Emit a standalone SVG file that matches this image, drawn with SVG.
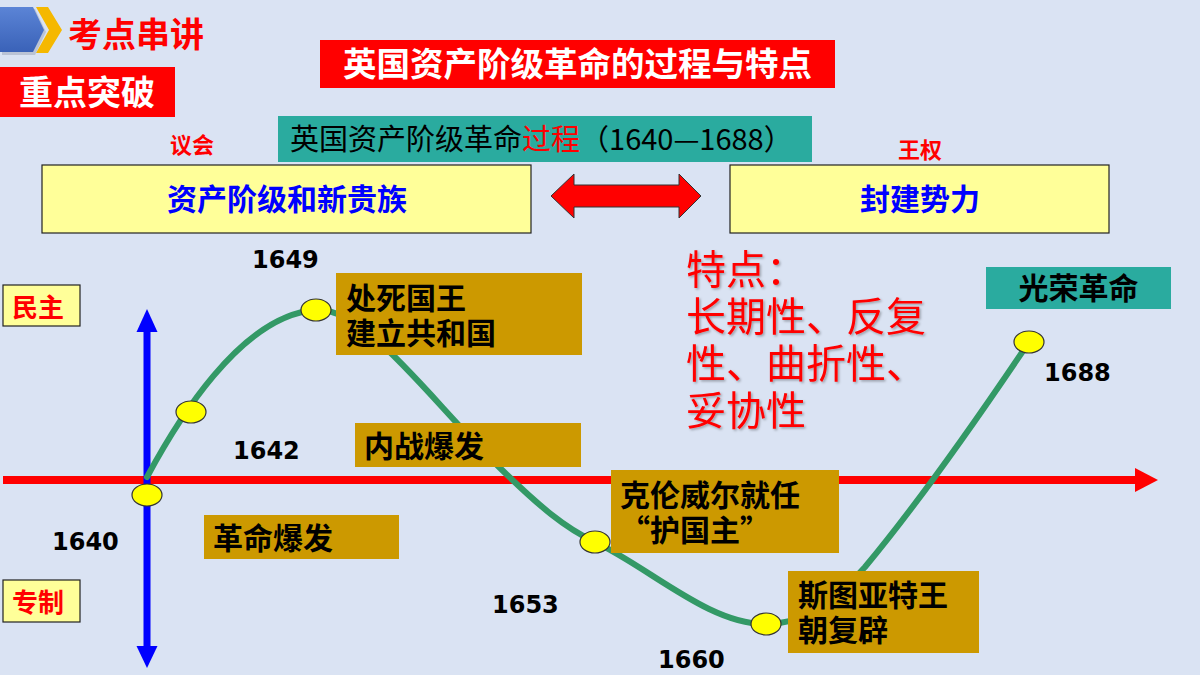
<svg xmlns="http://www.w3.org/2000/svg" width="1200" height="675" viewBox="0 0 1200 675">
<defs>
<style>
.cjk{font-family:"Noto Sans CJK SC","Noto Sans",sans-serif;}
.b{font-weight:700;}
.yr{font-family:"DejaVu Sans",sans-serif;font-weight:700;font-size:24px;fill:#000;}
.brown{fill:#cc9900;}
.lbl{font-family:"Noto Sans CJK SC",sans-serif;font-weight:700;font-size:30px;fill:#000;}
.ybox{fill:#ffff99;stroke:#222;stroke-width:1.2;}
.dot{fill:#ffff00;stroke:#333;stroke-width:1.2;}
.teal{fill:#2aab9f;}
</style>
<linearGradient id="bg1" x1="0" y1="0" x2="0" y2="1">
<stop offset="0" stop-color="#5b84d6"/><stop offset="1" stop-color="#3a62b8"/>
</linearGradient>
<filter id="sh" x="-5%" y="-5%" width="110%" height="120%">
<feDropShadow dx="1.5" dy="1.5" stdDeviation="0.8" flood-color="#000" flood-opacity="0.3"/>
</filter>
</defs>
<rect width="1200" height="675" fill="#dae3f3"/>

<g id="header-icon">
<polygon points="2,9 35,9 46,32 35,55 2,55" fill="#9aa4b8" opacity="0.5"/>
<polygon points="0,7 33,7 44,30 33,52 0,52" fill="url(#bg1)"/>
<polygon points="36,7 48,7 62,30 48,53 36,53 49,30" fill="#f5b800"/>
</g>
<g id="header-title">
<text x="68" y="47" class="cjk b" font-size="34" fill="#ff0000">考点串讲</text>
</g>
<g id="key-tag">
<rect x="0" y="67" width="175" height="50" fill="#ff0000"/>
<text x="19" y="105" class="cjk b" font-size="34" fill="#ffffff">重点突破</text>
</g>
<g id="main-title">
<rect x="320" y="40" width="515" height="48" fill="#ff0000"/>
<text x="577.5" y="76" class="cjk b" font-size="33.5" fill="#ffffff" text-anchor="middle">英国资产阶级革命的过程与特点</text>
</g>
<g id="process-title">
<rect x="278" y="116" width="534" height="46" class="teal"/>
<text x="290" y="150" class="cjk" font-size="29" fill="#000">英国资产阶级革命<tspan fill="#ff0000">过程</tspan>（1640—1688）</text>
</g>
<g id="label-parliament">
<text x="192" y="153" class="cjk b" font-size="22" fill="#ff0000" text-anchor="middle">议会</text>
</g>
<g id="label-crown">
<text x="920" y="158" class="cjk b" font-size="22" fill="#ff0000" text-anchor="middle">王权</text>
</g>
<g id="bourgeoisie">
<rect x="42" y="165" width="489" height="68" class="ybox"/>
<text x="287" y="210" class="cjk b" font-size="30" fill="#0000ff" text-anchor="middle">资产阶级和新贵族</text>
</g>
<g id="feudal">
<rect x="730" y="165" width="379" height="68" class="ybox"/>
<text x="920" y="210" class="cjk b" font-size="30" fill="#0000ff" text-anchor="middle">封建势力</text>
</g>
<g id="conflict-arrow">
<polygon points="551,196 574,174 574,185 679,185 679,174 701,196 679,218 679,207 574,207 574,218" fill="#ff0000" stroke="#333" stroke-width="1"/>
</g>

<g id="connectors">
<rect x="3" y="476" width="1133" height="8" fill="#ff0000"/>
<polygon points="1135,468 1158,480 1135,492" fill="#ff0000"/>
<rect x="143.5" y="329" width="7" height="320" fill="#0000ff"/>
<polygon points="136.5,332 147,309 157.5,332" fill="#0000ff"/>
<polygon points="136.5,646 147,668 157.5,646" fill="#0000ff"/>
<path d="M147,477 C175,425 240,315 316,310 C365,306 430,400 500,468 C540,507 565,528 595,542 C650,568 710,625 766,624 C810,623 835,600 865,567 C925,495 990,400 1029,342" fill="none" stroke="#339966" stroke-width="6" stroke-linecap="round"/>
</g>

<g id="label-democracy">
<rect x="3" y="285" width="77" height="41" class="ybox"/>
<text x="38" y="317" class="cjk b" font-size="26" fill="#ff0000" text-anchor="middle">民主</text>
</g>
<g id="label-autocracy">
<rect x="3" y="580" width="77" height="42" class="ybox"/>
<text x="38" y="612" class="cjk b" font-size="26" fill="#ff0000" text-anchor="middle">专制</text>
</g>

<g id="p1640">
<ellipse cx="147" cy="495" rx="15" ry="11" class="dot"/>
<text x="52" y="550" class="yr">1640</text>
</g>
<g id="e1640">
<rect x="204" y="515" width="195" height="44" class="brown"/>
<text x="213" y="549" class="lbl">革命爆发</text>
</g>
<g id="p1642">
<ellipse cx="191" cy="412" rx="15" ry="11" class="dot"/>
<text x="233" y="459" class="yr">1642</text>
</g>
<g id="e1642">
<rect x="355" y="423" width="226" height="44" class="brown"/>
<text x="364" y="457" class="lbl">内战爆发</text>
</g>
<g id="p1649">
<ellipse cx="316" cy="310" rx="15" ry="11" class="dot"/>
<text x="252" y="268" class="yr">1649</text>
</g>
<g id="e1649">
<rect x="336" y="273" width="246" height="82" class="brown"/>
<text x="346" y="309" class="lbl">处死国王</text>
<text x="346" y="344" class="lbl">建立共和国</text>
</g>
<g id="p1653">
<ellipse cx="595" cy="542" rx="15" ry="11" class="dot"/>
<text x="492" y="613" class="yr">1653</text>
</g>
<g id="e1653">
<rect x="611" y="470" width="228" height="83" class="brown"/>
<text x="620" y="506" class="lbl">克伦威尔就任</text>
<text x="620" y="541" class="lbl">“护国主”</text>
</g>
<g id="p1660">
<ellipse cx="766" cy="624" rx="15" ry="11" class="dot"/>
<text x="658" y="668" class="yr">1660</text>
</g>
<g id="e1660">
<rect x="788" y="571" width="191" height="82" class="brown"/>
<text x="798" y="606" class="lbl">斯图亚特王</text>
<text x="798" y="641" class="lbl">朝复辟</text>
</g>
<g id="p1688">
<ellipse cx="1029" cy="342" rx="15" ry="11" class="dot"/>
<text x="1044" y="381" class="yr">1688</text>
</g>
<g id="e1688">
<rect x="986" y="267" width="185" height="42" class="teal"/>
<text x="1078.5" y="299" class="lbl" text-anchor="middle" font-size="29">光荣革命</text>
</g>

<g id="features" filter="url(#sh)">
<text class="cjk" font-size="40" fill="#ff0000">
<tspan x="686" y="284">特点：</tspan>
<tspan x="686" y="331">长期性、反复</tspan>
<tspan x="686" y="378">性、曲折性、</tspan>
<tspan x="686" y="425">妥协性</tspan>
</text>
</g>
</svg>
